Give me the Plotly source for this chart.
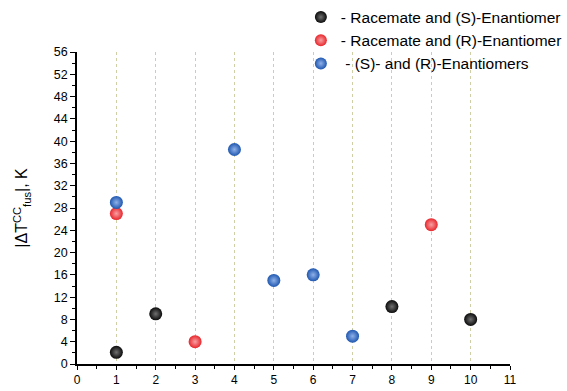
import plotly.graph_objects as go

# Data
black_x = [1, 2, 8, 10]
black_y = [2.1, 9.0, 10.3, 8.0]
red_x = [1, 3, 9]
red_y = [27.0, 4.0, 25.0]
blue_x = [1, 4, 5, 6, 7]
blue_y = [29.0, 38.5, 15.0, 16.0, 5.0]

names = ["- Racemate and (S)-Enantiomer",
         "- Racemate and (R)-Enantiomer",
         " - (S)- and (R)-Enantiomers"]
colors = ["#0a0a0a", "#e8262b", "#1f57b0"]
highlights = ["#707070", "#f7a0a3", "#8fb1e8"]

x_ticks = list(range(0, 12))
y_ticks = list(range(0, 57, 4))

fig = go.Figure()
for xs, ys, name, c, h in zip([black_x, red_x, blue_x], [black_y, red_y, blue_y],
                              names, colors, highlights):
    fig.add_trace(go.Scatter(
        x=xs, y=ys, mode="markers", name=name,
        marker=dict(size=13, color=c, line=dict(width=0),
                    gradient=dict(type="radial", color=h)),
    ))

font = "Liberation Sans, Arial, sans-serif"
fig.update_layout(
    width=567, height=391,
    margin=dict(l=77, r=57, t=52, b=27, autoexpand=False),
    plot_bgcolor="white", paper_bgcolor="white",
    font=dict(family=font, size=12, color="black"),
    showlegend=True,
    legend=dict(x=0.517, y=1.165, xanchor="left", yanchor="top",
                font=dict(size=15.5, family=font), bgcolor="rgba(0,0,0,0)",
                tracegroupgap=0, itemsizing="constant"),
    xaxis=dict(range=[0, 11], tickvals=x_ticks, showline=True, linecolor="black",
               linewidth=1.5, ticks="outside", ticklen=4, tickwidth=1.2,
               tickcolor="black", showgrid=True, gridcolor="#cfcfa6",
               griddash="dot", gridwidth=1, zeroline=False, automargin=False,
               minor=dict(dtick=0.5, tick0=0, ticks="outside", ticklen=3,
                          tickcolor="black", showgrid=False),
               tickfont=dict(size=12)),
    yaxis=dict(range=[0, 56], tickvals=y_ticks, showline=True, linecolor="black",
               linewidth=1.5, ticks="outside", ticklen=5, tickwidth=1.2,
               tickcolor="black", showgrid=False, zeroline=False, automargin=False,
               minor=dict(dtick=2, tick0=0, ticks="outside", ticklen=3,
                          tickcolor="black", showgrid=False),
               tickfont=dict(size=12.5),
               title=dict(text="|ΔT<sup>CC</sup><sub>fus</sub>|, K",
                          font=dict(size=16), standoff=22)),
)

fig.write_html("out.html")
